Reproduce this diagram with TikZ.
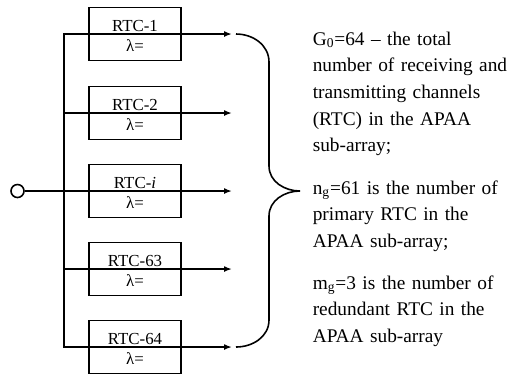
\documentclass[tikz,border=0pt]{standalone}
\usepackage{fontspec}
\setmainfont{Liberation Serif}
\usetikzlibrary{arrows.meta, positioning, calc}

\begin{document}
\begin{tikzpicture}[
    line width=0.9pt,
    sig/.style={-{Latex[length=1.6mm,width=1.2mm]}},
    rtcbox/.style={draw, minimum width=1.84cm, minimum height=1.06cm, inner sep=0pt},
    rtcname/.style={font=\fontsize{9.6}{11}\selectfont, anchor=base, inner sep=0pt},
    notes/.style={font=\fontsize{11}{15.2}\selectfont, text width=4.1cm, align=left,
      anchor=base west, inner sep=0pt}
  ]
  \useasboundingbox (0,0) rectangle (10.26,-7.52);
  \node[draw, circle, minimum size=0.26cm, inner sep=0pt] (in) at (0.35,-3.82) {};
  \foreach \k/\y/\lab in {1/-0.68/1, 2/-2.26/2, 3/-3.82/\textit{i}, 4/-5.38/63, 5/-6.94/64}{
    \coordinate (j\k) at (1.28,\y);
    \coordinate (t\k) at (4.64,\y);
    \node[rtcbox] (b\k) at (2.70,\y) {};
    \node[rtcname] (n\k) at ([yshift=0.06cm]b\k.center) {RTC-\lab};
    \node[rtcname] (l\k) at ([yshift=-0.34cm]b\k.center) {λ=};
  }
  \draw[{Latex[length=1.6mm,width=1.2mm]}-{Latex[length=1.6mm,width=1.2mm]}]
    (t1) -- (j1) -- (j5) -- (t5);
  \foreach \k in {2,4}{\draw[sig] (j\k) -- (t\k);}
  \draw[sig] (in) -- (t3);
  % curly brace gathering the channel outputs
  \coordinate (bt) at (4.72,-0.68);
  \coordinate (bk) at (6.00,-3.82);
  \coordinate (bb) at (4.72,-6.94);
  \draw (bt) to[out=0,in=90] (5.38,-1.24) -- (5.38,-3.32) to[out=-90,in=180] (bk)
    to[out=180,in=90] (5.38,-4.32) -- (5.38,-6.40) to[out=-90,in=0] (bb);
  \node[notes] (g0) at (6.24,-0.90) {G\textsubscript{0}=64 – the total\\ number of receiving and\\
    transmitting channels\\ (RTC) in the APAA\\ sub-array;};
  \node[notes] (ng) at (6.24,-3.88) {n\textsubscript{g}=61 is the number of\\ primary RTC in the\\
    APAA sub-array;};
  \node[notes] (mg) at (6.24,-5.78) {m\textsubscript{g}=3 is the number of\\ redundant RTC in the\\
    APAA sub-array};
\end{tikzpicture}
\end{document}
